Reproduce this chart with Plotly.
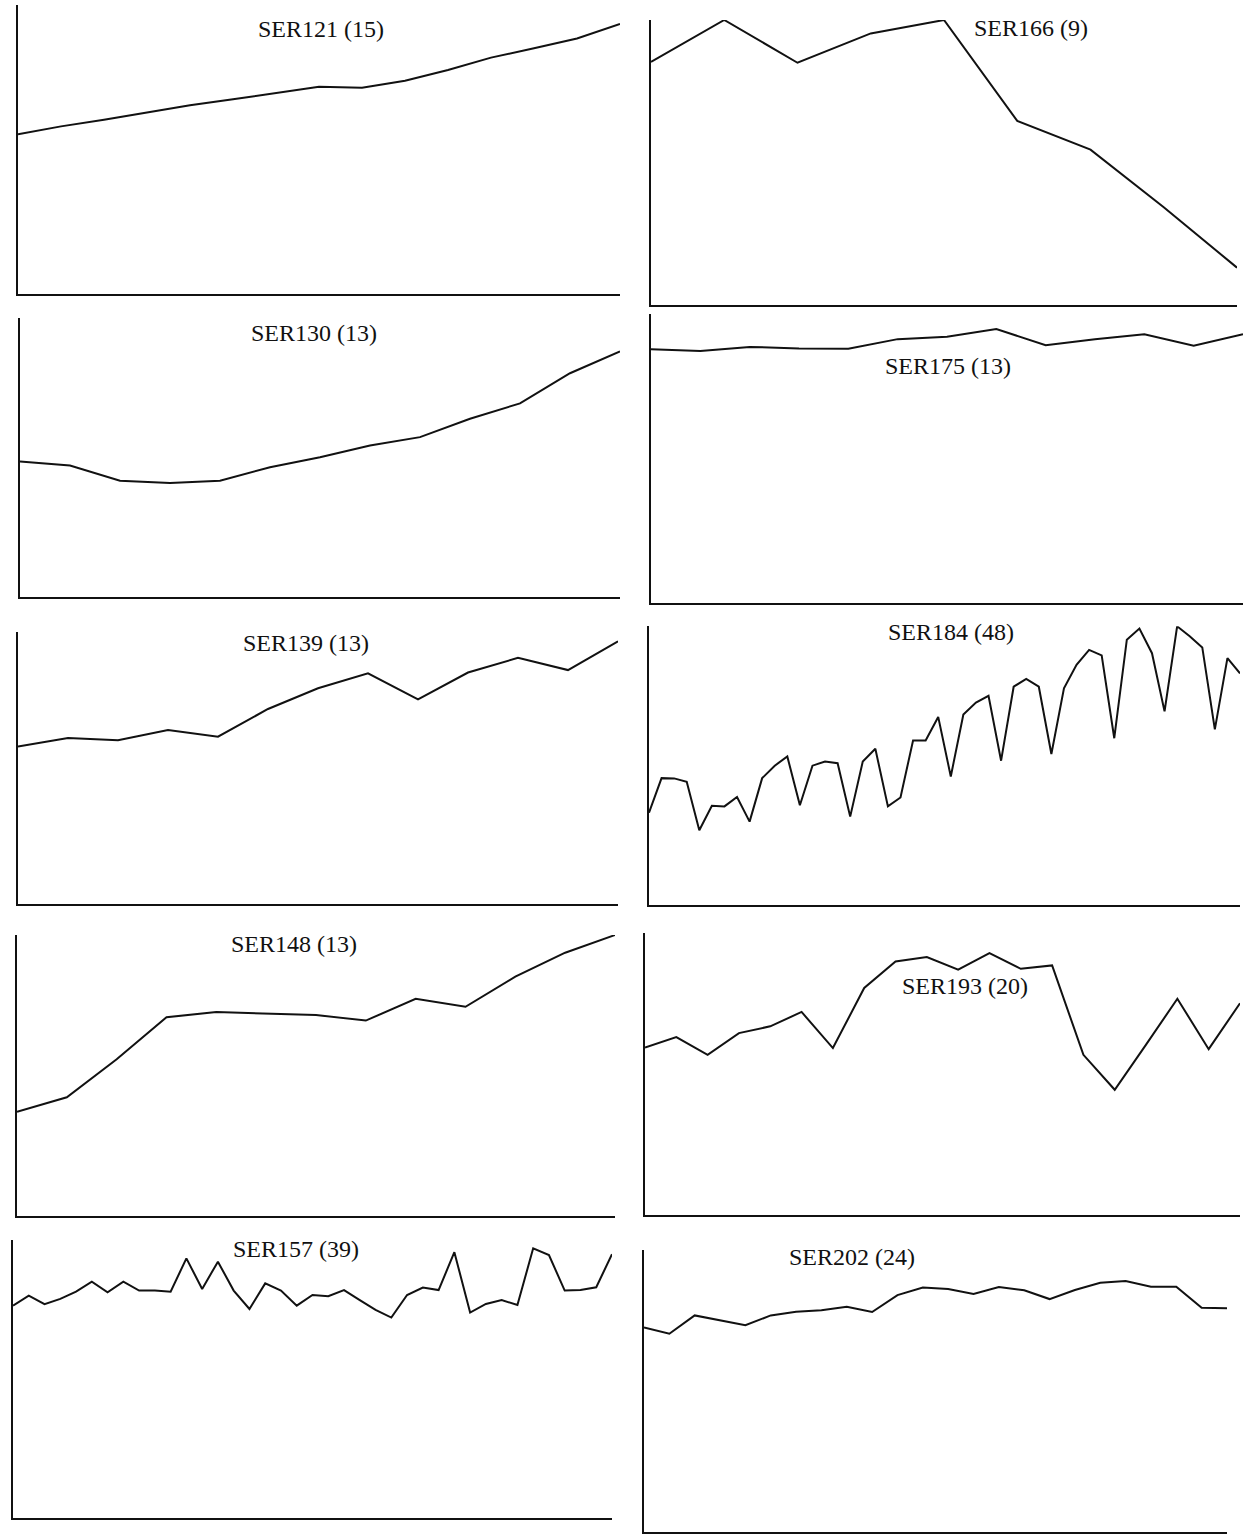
import plotly.graph_objects as go

# Series values (relative level, 0 = baseline, 100 = top of the vertical axis)
ser121 = [55.3, 58.0, 60.3, 62.8, 65.3, 67.4, 69.6, 71.7, 71.4, 73.8, 77.5, 81.8, 85.0, 88.4, 93.4]
ser166 = [85.3, 100.0, 85.0, 95.3, 100.0, 64.6, 54.5, 34.3, 13.1]
ser130 = [48.6, 47.1, 41.7, 40.9, 41.7, 46.5, 50.1, 54.3, 57.3, 63.9, 69.4, 80.2, 88.0]
ser175 = [87.8, 87.2, 88.6, 88.1, 88.0, 91.3, 92.1, 94.8, 89.2, 91.3, 93.0, 89.0, 93.0]
ser139 = [57.9, 61.0, 60.2, 64.0, 61.5, 71.7, 79.3, 84.8, 75.2, 85.1, 90.5, 86.0, 96.6]
ser184 = [33.3, 45.8, 45.7, 44.5, 27.0, 35.8, 35.6, 39.0, 30.1, 45.8, 50.3, 53.6,
          36.0, 50.3, 51.8, 51.2, 31.9, 51.8, 56.4, 35.6, 38.8, 59.4, 59.4, 67.9,
          46.4, 68.8, 73.1, 75.5, 52.1, 78.8, 81.6, 78.8, 54.5, 78.2, 86.7, 92.1,
          90.1, 60.2, 95.8, 99.8, 90.9, 69.9, 100.6, 97.0, 93.0, 63.4, 89.1, 83.6]
ser148 = [37.8, 43.0, 56.8, 72.0, 73.9, 73.4, 72.8, 70.8, 78.7, 75.8, 86.7, 95.4, 101.8]
ser193 = [59.4, 63.1, 56.8, 64.5, 66.9, 72.0, 59.2, 80.5, 89.9, 91.5,
          87.0, 92.9, 87.3, 88.5, 56.8, 44.4, 60.4, 76.7, 58.8, 75.1]
ser157 = [76.4, 80.0, 76.9, 78.8, 81.4, 85.0, 81.2, 85.0, 81.8, 81.8, 81.4, 93.4, 82.4,
          92.2, 81.8, 75.2, 84.4, 81.8, 76.4, 80.2, 79.8, 82.0, 78.4, 74.9, 72.1, 80.2,
          82.9, 82.0, 95.6, 73.9, 77.0, 78.4, 76.6, 97.0, 94.6, 81.8, 82.0, 83.0, 94.9]
ser202 = [72.5, 70.3, 76.8, 75.0, 73.3, 76.8, 78.1, 78.6, 79.9, 78.0, 84.0, 86.7,
          86.2, 84.4, 86.9, 85.7, 82.6, 85.8, 88.4, 89.0, 87.0, 87.0, 79.5, 79.3]

titles = ["SER121 (15)", "SER166 (9)", "SER130 (13)", "SER175 (13)", "SER139 (13)",
          "SER184 (48)", "SER148 (13)", "SER193 (20)", "SER157 (39)", "SER202 (24)"]
series = [ser121, ser166, ser130, ser175, ser139, ser184, ser148, ser193, ser157, ser202]

W, H = 1250, 1539

# Panel frames in page pixels: (left, right, top of axis, baseline)
frames = [
    (18, 620, 5, 294),
    (651, 1237, 20, 305),
    (20, 620, 318, 597),
    (651, 1243, 314, 603),
    (18, 618, 632, 904),
    (649, 1240, 628, 905),
    (17, 615, 940, 1216),
    (645, 1240, 933, 1215),
    (13, 612, 1240, 1518),
    (644, 1227, 1250, 1532),
]
# Title centres in page pixels
title_pos = [
    (321, 29), (1031, 28), (314, 333), (948, 366), (306, 643),
    (951, 632), (294, 944), (965, 986), (296, 1249), (852, 1257),
]

fig = go.Figure()
layout_axes = {}
for i, (vals, (x0, x1, yt, yb)) in enumerate(zip(series, frames)):
    k = "" if i == 0 else str(i + 1)
    top = max(100.0, max(vals))
    # extend the frame upward if the series rises above the nominal top
    ytop_px = yb - (yb - yt) * top / 100.0
    fig.add_trace(go.Scatter(
        x=list(range(len(vals))), y=vals, mode="lines",
        line=dict(color="#111111", width=2),
        xaxis="x" + k, yaxis="y" + k, showlegend=False, hoverinfo="skip",
    ))
    axis_common = dict(showgrid=False, zeroline=False, showticklabels=False,
                       ticks="", showline=True, linecolor="#111111", linewidth=2)
    layout_axes["xaxis" + k] = dict(
        domain=[x0 / W, x1 / W], range=[0, len(vals) - 1],
        anchor="y" + k, **axis_common)
    layout_axes["yaxis" + k] = dict(
        domain=[1 - yb / H, 1 - ytop_px / H], range=[0, top],
        anchor="x" + k, **axis_common)

annotations = []
for t, (cx, cy) in zip(titles, title_pos):
    annotations.append(dict(
        text=t, x=cx / W, y=1 - cy / H, xref="paper", yref="paper",
        xanchor="center", yanchor="middle", showarrow=False,
        font=dict(family="Liberation Serif, Times New Roman, serif", size=24, color="#111111"),
        bgcolor="white", borderpad=1,
    ))

fig.update_layout(
    width=W, height=H, margin=dict(l=0, r=0, t=0, b=0),
    paper_bgcolor="white", plot_bgcolor="white",
    annotations=annotations, **layout_axes,
)

fig.write_html("out.html")
